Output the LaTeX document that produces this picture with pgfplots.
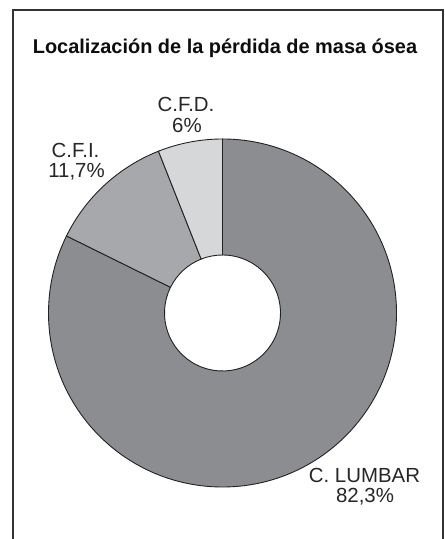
\documentclass[border=0pt]{standalone}
\usepackage{pgfplots}
\pgfplotsset{compat=1.18}
\usepackage{pgfplotstable}
\usepackage{fontspec}
\setmainfont{Liberation Sans}
\definecolor{cLumbar}{HTML}{8C8D91}
\definecolor{cCFI}{HTML}{A7A8AC}
\definecolor{cCFD}{HTML}{D6D7D9}
\definecolor{edge}{HTML}{222222}

\pgfplotstableread{
name value
LUMBAR 82.3
CFI 11.7
CFD 6
}\datatable

\begin{document}
\begin{tikzpicture}[x=1bp,y=1bp]
\useasboundingbox (0,0) rectangle (445,539);
\pgfplotstablegetelem{0}{value}\of\datatable \pgfmathsetmacro{\vA}{\pgfplotsretval}
\pgfplotstablegetelem{1}{value}\of\datatable \pgfmathsetmacro{\vB}{\pgfplotsretval}
\pgfplotstablegetelem{2}{value}\of\datatable \pgfmathsetmacro{\vC}{\pgfplotsretval}
\pgfmathsetmacro{\aZ}{90}
\pgfmathsetmacro{\aA}{\aZ-3.6*\vA}
\pgfmathsetmacro{\aB}{\aA-3.6*\vB}
\pgfmathsetmacro{\aC}{\aB-3.6*\vC}
\def\ri{0.3333}
\draw[line width=1.4bp, color=black!80] (13,0) -- (13,529) -- (443,529) -- (443,0);
\begin{axis}[at={(222.5bp,226bp)}, anchor=origin, x=174bp, y=174bp,
  xmin=-1, xmax=1, ymin=-1, ymax=1, hide axis, clip=false]
\filldraw[fill=cLumbar, draw=edge, line width=0.9bp]
  (axis cs:{cos(\aZ)},{sin(\aZ)}) arc[start angle=\aZ, end angle=\aA, radius=174bp]
  -- (axis cs:{\ri*cos(\aA)},{\ri*sin(\aA)}) arc[start angle=\aA, end angle=\aZ, radius=58bp] -- cycle;
\filldraw[fill=cCFI, draw=edge, line width=0.9bp]
  (axis cs:{cos(\aA)},{sin(\aA)}) arc[start angle=\aA, end angle=\aB, radius=174bp]
  -- (axis cs:{\ri*cos(\aB)},{\ri*sin(\aB)}) arc[start angle=\aB, end angle=\aA, radius=58bp] -- cycle;
\filldraw[fill=cCFD, draw=edge, line width=0.9bp]
  (axis cs:{cos(\aB)},{sin(\aB)}) arc[start angle=\aB, end angle=\aC, radius=174bp]
  -- (axis cs:{\ri*cos(\aC)},{\ri*sin(\aC)}) arc[start angle=\aC, end angle=\aB, radius=58bp] -- cycle;
\end{axis}
\node[anchor=base, font=\fontsize{20}{22}\selectfont\bfseries, text=black!95, inner sep=0] at (225,485) {Localización de la pérdida de masa ósea};
\begin{scope}[every node/.style={anchor=base, inner sep=0, text=black!85, font=\fontsize{20.5}{22}\selectfont}]
\node at (186,427) {C.F.D.};
\node at (187,406) {6\%};
\node at (75.5,381) {C.F.I.};
\node at (76.5,361) {11,7\%};
\node at (364.5,56) {C. LUMBAR};
\node at (365,36) {82,3\%};
\end{scope}
\end{tikzpicture}
\end{document}
